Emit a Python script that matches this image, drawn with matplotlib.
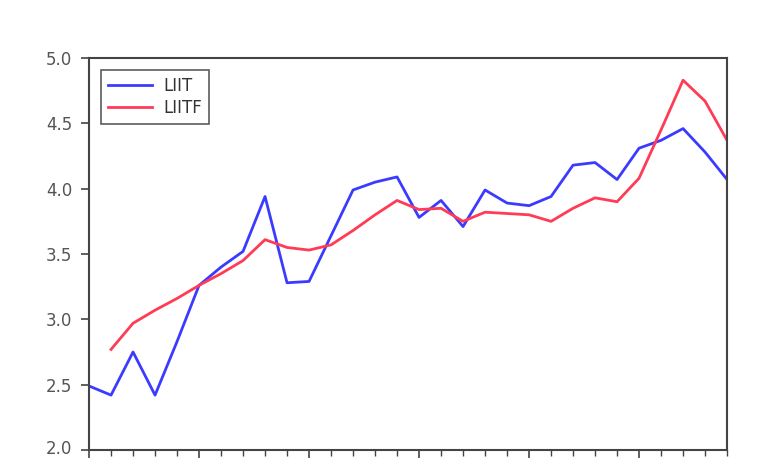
#%% modules
import numpy as np
from matplotlib import pyplot as plt
from matplotlib.ticker import MultipleLocator
from matplotlib.transforms import ScaledTranslation

#%% data (30 periods, LIITF starts at the second one)
periods = np.arange(30)
liit = [2.49, 2.42, 2.75, 2.42, 2.83, 3.26, 3.40, 3.52, 3.94, 3.28,
        3.29, 3.64, 3.99, 4.05, 4.09, 3.78, 3.91, 3.71, 3.99, 3.89,
        3.87, 3.94, 4.18, 4.20, 4.07, 4.31, 4.37, 4.46, 4.28, 4.07]
liitf = [np.nan, 2.77, 2.97, 3.07, 3.16, 3.26, 3.35, 3.45, 3.61, 3.55,
         3.53, 3.57, 3.68, 3.80, 3.91, 3.84, 3.85, 3.75, 3.82, 3.81,
         3.80, 3.75, 3.85, 3.93, 3.90, 4.08, 4.45, 4.83, 4.67, 4.37]
yticks = [2.0, 2.5, 3.0, 3.5, 4.0, 4.5, 5.0]

#%% figure
fig = plt.figure(figsize=(7.61, 4.59), dpi=100)
ax = fig.add_axes([0.117, 0.0196, 0.8384, 0.854])

ax.plot(periods, liit, color='#3b3bff', lw=2.0, label='LIIT')
ax.plot(periods, liitf, color='#ff3b55', lw=2.0, label='LIITF')

ax.set_xlim(0, 29)
ax.set_ylim(2.0, 5.0)
ax.set_yticks(yticks)
ax.set_yticklabels(['%.1f' % v for v in yticks])
ax.xaxis.set_major_locator(MultipleLocator(5))
ax.xaxis.set_minor_locator(MultipleLocator(1))
ax.set_xticklabels([])

for s in ax.spines.values():
    s.set_color('#444444')
    s.set_linewidth(1.5)
ax.tick_params(axis='y', direction='out', length=6, width=1.2, color='#444444',
               labelsize=12, labelcolor='#555555', pad=6)
ax.tick_params(axis='x', which='major', direction='out', length=6, width=1.2, color='#444444')
ax.tick_params(axis='x', which='minor', direction='out', length=4, width=1.0, color='#444444')

# lowest label sits on the figure edge, lift it a little so it is not clipped
lab0 = ax.get_yticklabels()[0]
lab0.set_transform(lab0.get_transform() + ScaledTranslation(0, 3/100, fig.dpi_scale_trans))

leg = ax.legend(loc='upper left', fontsize=12, frameon=True, fancybox=False,
                handlelength=2.6, handletextpad=0.7, borderpad=0.45,
                labelspacing=0.2, borderaxespad=0.7)
leg.get_frame().set_edgecolor('#333333')
leg.get_frame().set_linewidth(1.2)
for t in leg.get_texts():
    t.set_color('#333333')

plt.savefig('out.png', dpi=100)
